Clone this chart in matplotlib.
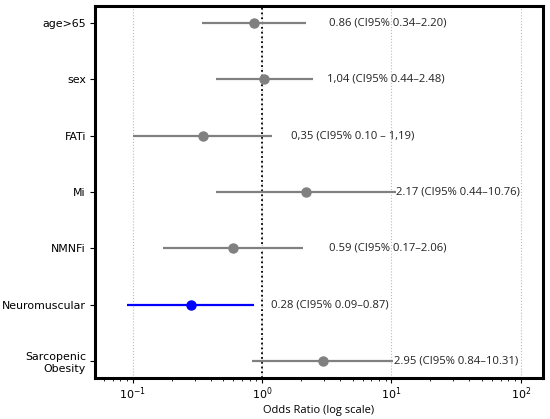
import matplotlib
matplotlib.use("Agg")
import matplotlib.pyplot as plt

labels = ["age>65", "sex", "FATi", "Mi", "NMNFi", "Neuromuscular", "Sarcopenic\nObesity"]
odds = [0.86, 1.04, 0.35, 2.17, 0.59, 0.28, 2.95]
ci_low = [0.34, 0.44, 0.10, 0.44, 0.17, 0.09, 0.84]
ci_high = [2.20, 2.48, 1.19, 10.76, 2.06, 0.87, 10.31]
value_texts = ["0.86 (CI95% 0.34–2.20)", "1,04 (CI95% 0.44–2.48)", "0,35 (CI95% 0.10 – 1,19)",
               "2.17 (CI95% 0.44–10.76)", "0.59 (CI95% 0.17–2.06)", "0.28 (CI95% 0.09–0.87)",
               "2.95 (CI95% 0.84–10.31)"]
highlight = [False, False, False, False, False, True, False]
text_offset = [1.5, 1.28, 1.4, 1.0, 1.6, 1.35, 1.01]

fig = plt.figure(figsize=(5.5, 4.19), dpi=100)
ax = fig.add_axes([0.1727, 0.098, 0.8143, 0.8877])
ax.set_xscale("log")

for i in range(len(labels)):
    c = "#0000ff" if highlight[i] else "#808080"
    ax.plot([ci_low[i], ci_high[i]], [i, i], color=c, lw=1.6, solid_capstyle="butt", zorder=3)
    ax.plot(odds[i], i, "o", color=c, ms=6.5, zorder=4)
    ax.text(ci_high[i] * text_offset[i], i, value_texts[i], va="center", ha="left",
            fontsize=8.1, family="Open Sans", color="#222222")

ax.axvline(1, color="black", ls=":", lw=1.3, zorder=2)
ax.set_xlim(0.051, 148)
ax.set_ylim(6.3, -0.3)
ax.set_yticks(range(len(labels)))
ax.set_yticklabels(labels, fontsize=7.9)
ax.tick_params(axis="y", pad=3)
ax.tick_params(axis="x", labelsize=8, pad=2)
ax.xaxis.grid(True, which="major", ls=":", color="#bbbbbb", lw=0.8)
ax.set_axisbelow(True)
ax.set_xlabel("Odds Ratio (log scale)", fontsize=8, family="Open Sans", labelpad=2)
for s in ax.spines.values():
    s.set_linewidth(2.2)

fig.savefig("out.png", dpi=100)
